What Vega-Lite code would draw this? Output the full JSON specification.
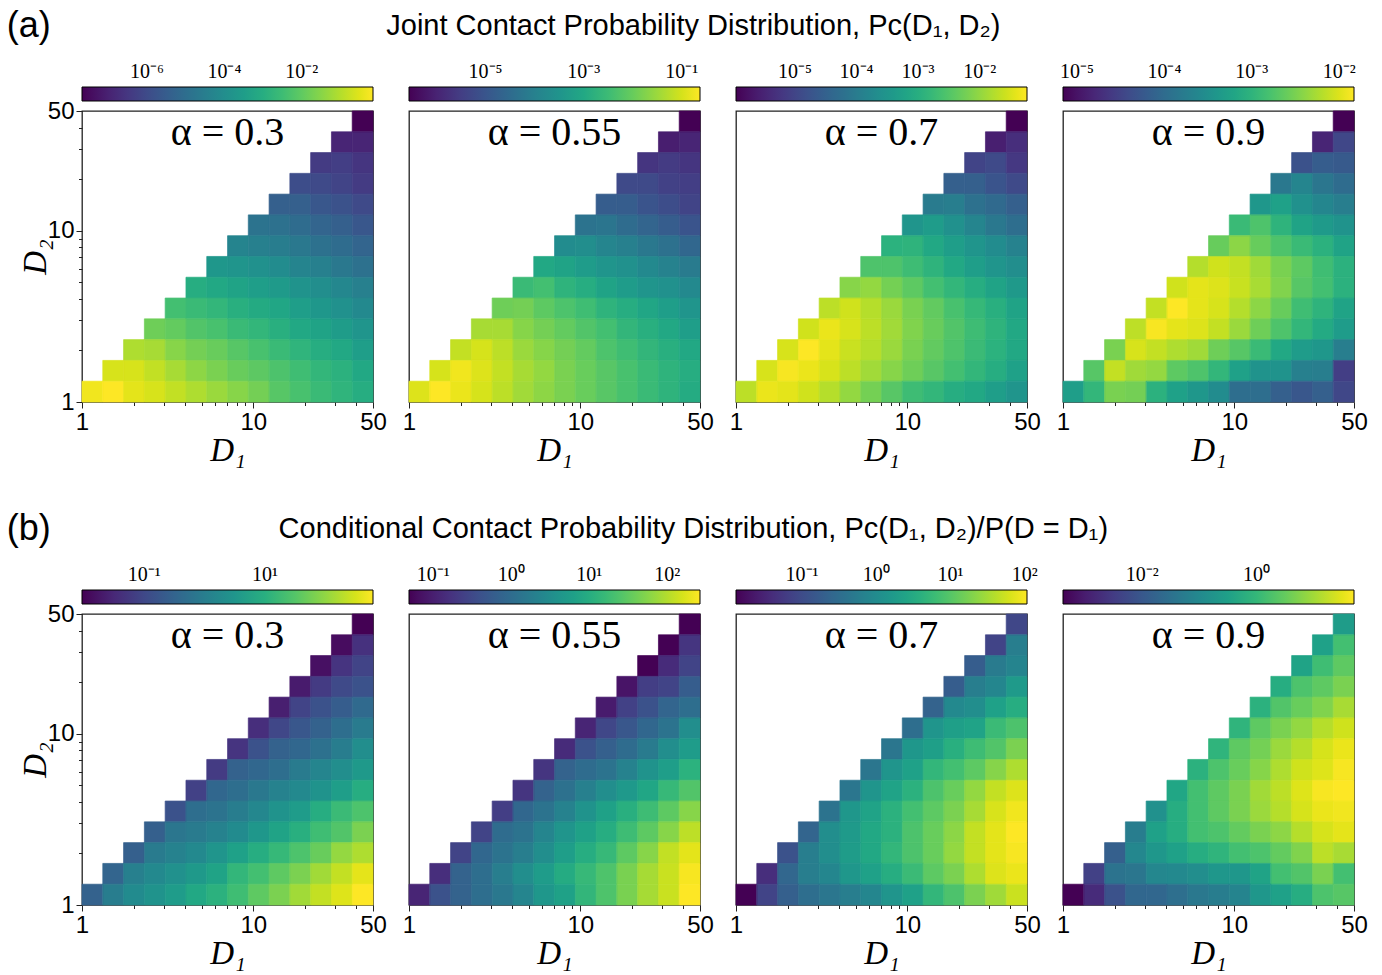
{
"$schema":"https://vega.github.io/schema/vega-lite/v6.json",
"background":"white",
"padding":{"left":6,"top":8,"right":5,"bottom":0},
"spacing":43,
"resolve":{"scale":{"color":"independent","stroke":"independent"},"legend":{"color":"independent"}},
"config":{
 "font":"Liberation Sans",
 "view":{"stroke":"#222","strokeWidth":1.3},
 "concat":{"spacing":36},
 "title":{"font":"Liberation Sans","fontWeight":"normal","color":"black"},
 "axis":{"grid":false,"domain":false,"labelFont":"Liberation Sans","labelFontSize":24,"labelColor":"black","labelPadding":2,"tickColor":"#222","tickWidth":1,"titleFont":"Liberation Serif","titleFontStyle":"italic","titleFontWeight":"normal","titleFontSize":33,"titleColor":"black","titlePadding":0,"labelOverlap":false,"labelFlush":false},
 "axisY":{"titlePadding":-5},
 "legend":{"orient":"top","direction":"horizontal","gradientThickness":14,"gradientStrokeColor":"black","gradientStrokeWidth":1,"labelFont":"Liberation Serif","labelFontSize":20,"labelColor":"black","labelOverlap":false,"offset":9,"padding":0}
},
"datasets":{
 "bins":[{"k":0,"lo":1,"hi":1.3225},{"k":1,"lo":1.3225,"hi":1.749},{"k":2,"lo":1.749,"hi":2.313},{"k":3,"lo":2.313,"hi":3.059},{"k":4,"lo":3.059,"hi":4.0456},{"k":5,"lo":4.0456,"hi":5.3504},{"k":6,"lo":5.3504,"hi":7.0757},{"k":7,"lo":7.0757,"hi":9.3512},{"k":8,"lo":9.3512,"hi":12.37},{"k":9,"lo":12.37,"hi":16.355},{"k":10,"lo":16.355,"hi":21.625},{"k":11,"lo":21.625,"hi":28.6},{"k":12,"lo":28.6,"hi":37.81},{"k":13,"lo":37.81,"hi":50}],
 "labels":[{"p":"a1","label":"α = 0.3"},{"p":"a2","label":"α = 0.55"},{"p":"a3","label":"α = 0.7"},{"p":"a4","label":"α = 0.9"},{"p":"b1","label":"α = 0.3"},{"p":"b2","label":"α = 0.55"},{"p":"b3","label":"α = 0.7"},{"p":"b4","label":"α = 0.9"}],
 "cells":[
{"p":"a1","i":13,"j":13,"v":-7.68},
{"p":"a1","i":12,"j":12,"v":-6.93},{"p":"a1","i":13,"j":12,"v":-6.93},
{"p":"a1","i":11,"j":11,"v":-6.40},{"p":"a1","i":12,"j":11,"v":-6.33},{"p":"a1","i":13,"j":11,"v":-6.55},
{"p":"a1","i":10,"j":10,"v":-5.95},{"p":"a1","i":11,"j":10,"v":-6.03},{"p":"a1","i":12,"j":10,"v":-6.18},{"p":"a1","i":13,"j":10,"v":-6.40},
{"p":"a1","i":9,"j":9,"v":-5.42},{"p":"a1","i":10,"j":9,"v":-5.42},{"p":"a1","i":11,"j":9,"v":-5.65},{"p":"a1","i":12,"j":9,"v":-5.80},{"p":"a1","i":13,"j":9,"v":-6.03},
{"p":"a1","i":8,"j":8,"v":-4.82},{"p":"a1","i":9,"j":8,"v":-4.90},{"p":"a1","i":10,"j":8,"v":-5.05},{"p":"a1","i":11,"j":8,"v":-5.27},{"p":"a1","i":12,"j":8,"v":-5.42},{"p":"a1","i":13,"j":8,"v":-5.65},
{"p":"a1","i":7,"j":7,"v":-4.30},{"p":"a1","i":8,"j":7,"v":-4.45},{"p":"a1","i":9,"j":7,"v":-4.52},{"p":"a1","i":10,"j":7,"v":-4.67},{"p":"a1","i":11,"j":7,"v":-4.90},{"p":"a1","i":12,"j":7,"v":-5.05},{"p":"a1","i":13,"j":7,"v":-5.27},
{"p":"a1","i":6,"j":6,"v":-3.69},{"p":"a1","i":7,"j":6,"v":-3.77},{"p":"a1","i":8,"j":6,"v":-3.92},{"p":"a1","i":9,"j":6,"v":-4.07},{"p":"a1","i":10,"j":6,"v":-4.30},{"p":"a1","i":11,"j":6,"v":-4.45},{"p":"a1","i":12,"j":6,"v":-4.67},{"p":"a1","i":13,"j":6,"v":-4.90},
{"p":"a1","i":5,"j":5,"v":-3.02},{"p":"a1","i":6,"j":5,"v":-3.17},{"p":"a1","i":7,"j":5,"v":-3.32},{"p":"a1","i":8,"j":5,"v":-3.47},{"p":"a1","i":9,"j":5,"v":-3.62},{"p":"a1","i":10,"j":5,"v":-3.84},{"p":"a1","i":11,"j":5,"v":-3.99},{"p":"a1","i":12,"j":5,"v":-4.22},{"p":"a1","i":13,"j":5,"v":-4.45},
{"p":"a1","i":4,"j":4,"v":-2.42},{"p":"a1","i":5,"j":4,"v":-2.57},{"p":"a1","i":6,"j":4,"v":-2.72},{"p":"a1","i":7,"j":4,"v":-2.94},{"p":"a1","i":8,"j":4,"v":-3.09},{"p":"a1","i":9,"j":4,"v":-3.24},{"p":"a1","i":10,"j":4,"v":-3.47},{"p":"a1","i":11,"j":4,"v":-3.69},{"p":"a1","i":12,"j":4,"v":-3.92},{"p":"a1","i":13,"j":4,"v":-4.15},
{"p":"a1","i":3,"j":3,"v":-1.81},{"p":"a1","i":4,"j":3,"v":-1.96},{"p":"a1","i":5,"j":3,"v":-2.19},{"p":"a1","i":6,"j":3,"v":-2.34},{"p":"a1","i":7,"j":3,"v":-2.57},{"p":"a1","i":8,"j":3,"v":-2.72},{"p":"a1","i":9,"j":3,"v":-2.94},{"p":"a1","i":10,"j":3,"v":-3.17},{"p":"a1","i":11,"j":3,"v":-3.32},{"p":"a1","i":12,"j":3,"v":-3.54},{"p":"a1","i":13,"j":3,"v":-3.77},
{"p":"a1","i":2,"j":2,"v":-1.06},{"p":"a1","i":3,"j":2,"v":-1.14},{"p":"a1","i":4,"j":2,"v":-1.51},{"p":"a1","i":5,"j":2,"v":-1.74},{"p":"a1","i":6,"j":2,"v":-1.89},{"p":"a1","i":7,"j":2,"v":-2.12},{"p":"a1","i":8,"j":2,"v":-2.34},{"p":"a1","i":9,"j":2,"v":-2.57},{"p":"a1","i":10,"j":2,"v":-2.79},{"p":"a1","i":11,"j":2,"v":-3.02},{"p":"a1","i":12,"j":2,"v":-3.17},{"p":"a1","i":13,"j":2,"v":-3.47},
{"p":"a1","i":1,"j":1,"v":-0.61},{"p":"a1","i":2,"j":1,"v":-0.61},{"p":"a1","i":3,"j":1,"v":-0.84},{"p":"a1","i":4,"j":1,"v":-1.14},{"p":"a1","i":5,"j":1,"v":-1.44},{"p":"a1","i":6,"j":1,"v":-1.66},{"p":"a1","i":7,"j":1,"v":-1.89},{"p":"a1","i":8,"j":1,"v":-2.04},{"p":"a1","i":9,"j":1,"v":-2.27},{"p":"a1","i":10,"j":1,"v":-2.49},{"p":"a1","i":11,"j":1,"v":-2.72},{"p":"a1","i":12,"j":1,"v":-2.87},{"p":"a1","i":13,"j":1,"v":-3.17},
{"p":"a1","i":0,"j":0,"v":-0.31},{"p":"a1","i":1,"j":0,"v":-0.16},{"p":"a1","i":2,"j":0,"v":-0.46},{"p":"a1","i":3,"j":0,"v":-0.61},{"p":"a1","i":4,"j":0,"v":-0.84},{"p":"a1","i":5,"j":0,"v":-1.06},{"p":"a1","i":6,"j":0,"v":-1.29},{"p":"a1","i":7,"j":0,"v":-1.51},{"p":"a1","i":8,"j":0,"v":-1.74},{"p":"a1","i":9,"j":0,"v":-2.12},{"p":"a1","i":10,"j":0,"v":-2.34},{"p":"a1","i":11,"j":0,"v":-2.57},{"p":"a1","i":12,"j":0,"v":-2.79},{"p":"a1","i":13,"j":0,"v":-3.02},

{"p":"a2","i":13,"j":13,"v":-6.56},
{"p":"a2","i":12,"j":12,"v":-6.09},{"p":"a2","i":13,"j":12,"v":-5.97},
{"p":"a2","i":11,"j":11,"v":-5.67},{"p":"a2","i":12,"j":11,"v":-5.55},{"p":"a2","i":13,"j":11,"v":-5.67},
{"p":"a2","i":10,"j":10,"v":-5.26},{"p":"a2","i":11,"j":10,"v":-5.26},{"p":"a2","i":12,"j":10,"v":-5.43},{"p":"a2","i":13,"j":10,"v":-5.49},
{"p":"a2","i":9,"j":9,"v":-4.84},{"p":"a2","i":10,"j":9,"v":-4.84},{"p":"a2","i":11,"j":9,"v":-5.02},{"p":"a2","i":12,"j":9,"v":-5.20},{"p":"a2","i":13,"j":9,"v":-5.37},
{"p":"a2","i":8,"j":8,"v":-4.31},{"p":"a2","i":9,"j":8,"v":-4.25},{"p":"a2","i":10,"j":8,"v":-4.48},{"p":"a2","i":11,"j":8,"v":-4.66},{"p":"a2","i":12,"j":8,"v":-4.84},{"p":"a2","i":13,"j":8,"v":-5.02},
{"p":"a2","i":7,"j":7,"v":-3.71},{"p":"a2","i":8,"j":7,"v":-3.65},{"p":"a2","i":9,"j":7,"v":-3.89},{"p":"a2","i":10,"j":7,"v":-4.01},{"p":"a2","i":11,"j":7,"v":-4.19},{"p":"a2","i":12,"j":7,"v":-4.37},{"p":"a2","i":13,"j":7,"v":-4.60},
{"p":"a2","i":6,"j":6,"v":-3.00},{"p":"a2","i":7,"j":6,"v":-3.12},{"p":"a2","i":8,"j":6,"v":-3.30},{"p":"a2","i":9,"j":6,"v":-3.48},{"p":"a2","i":10,"j":6,"v":-3.60},{"p":"a2","i":11,"j":6,"v":-3.77},{"p":"a2","i":12,"j":6,"v":-3.95},{"p":"a2","i":13,"j":6,"v":-4.13},
{"p":"a2","i":5,"j":5,"v":-2.53},{"p":"a2","i":6,"j":5,"v":-2.41},{"p":"a2","i":7,"j":5,"v":-2.71},{"p":"a2","i":8,"j":5,"v":-2.88},{"p":"a2","i":9,"j":5,"v":-3.12},{"p":"a2","i":10,"j":5,"v":-3.30},{"p":"a2","i":11,"j":5,"v":-3.48},{"p":"a2","i":12,"j":5,"v":-3.60},{"p":"a2","i":13,"j":5,"v":-3.77},
{"p":"a2","i":4,"j":4,"v":-1.93},{"p":"a2","i":5,"j":4,"v":-1.88},{"p":"a2","i":6,"j":4,"v":-2.11},{"p":"a2","i":7,"j":4,"v":-2.29},{"p":"a2","i":8,"j":4,"v":-2.47},{"p":"a2","i":9,"j":4,"v":-2.71},{"p":"a2","i":10,"j":4,"v":-2.88},{"p":"a2","i":11,"j":4,"v":-3.06},{"p":"a2","i":12,"j":4,"v":-3.24},{"p":"a2","i":13,"j":4,"v":-3.48},
{"p":"a2","i":3,"j":3,"v":-1.40},{"p":"a2","i":4,"j":3,"v":-1.40},{"p":"a2","i":5,"j":3,"v":-1.70},{"p":"a2","i":6,"j":3,"v":-1.88},{"p":"a2","i":7,"j":3,"v":-2.05},{"p":"a2","i":8,"j":3,"v":-2.23},{"p":"a2","i":9,"j":3,"v":-2.41},{"p":"a2","i":10,"j":3,"v":-2.65},{"p":"a2","i":11,"j":3,"v":-2.82},{"p":"a2","i":12,"j":3,"v":-3.00},{"p":"a2","i":13,"j":3,"v":-3.24},
{"p":"a2","i":2,"j":2,"v":-1.16},{"p":"a2","i":3,"j":2,"v":-0.99},{"p":"a2","i":4,"j":2,"v":-1.22},{"p":"a2","i":5,"j":2,"v":-1.52},{"p":"a2","i":6,"j":2,"v":-1.70},{"p":"a2","i":7,"j":2,"v":-1.88},{"p":"a2","i":8,"j":2,"v":-2.05},{"p":"a2","i":9,"j":2,"v":-2.29},{"p":"a2","i":10,"j":2,"v":-2.47},{"p":"a2","i":11,"j":2,"v":-2.65},{"p":"a2","i":12,"j":2,"v":-2.82},{"p":"a2","i":13,"j":2,"v":-3.00},
{"p":"a2","i":1,"j":1,"v":-0.99},{"p":"a2","i":2,"j":1,"v":-0.75},{"p":"a2","i":3,"j":1,"v":-0.93},{"p":"a2","i":4,"j":1,"v":-1.16},{"p":"a2","i":5,"j":1,"v":-1.40},{"p":"a2","i":6,"j":1,"v":-1.58},{"p":"a2","i":7,"j":1,"v":-1.82},{"p":"a2","i":8,"j":1,"v":-1.99},{"p":"a2","i":9,"j":1,"v":-2.17},{"p":"a2","i":10,"j":1,"v":-2.35},{"p":"a2","i":11,"j":1,"v":-2.53},{"p":"a2","i":12,"j":1,"v":-2.71},{"p":"a2","i":13,"j":1,"v":-2.88},
{"p":"a2","i":0,"j":0,"v":-0.93},{"p":"a2","i":1,"j":0,"v":-0.63},{"p":"a2","i":2,"j":0,"v":-0.81},{"p":"a2","i":3,"j":0,"v":-0.99},{"p":"a2","i":4,"j":0,"v":-1.22},{"p":"a2","i":5,"j":0,"v":-1.46},{"p":"a2","i":6,"j":0,"v":-1.64},{"p":"a2","i":7,"j":0,"v":-1.82},{"p":"a2","i":8,"j":0,"v":-1.99},{"p":"a2","i":9,"j":0,"v":-2.17},{"p":"a2","i":10,"j":0,"v":-2.35},{"p":"a2","i":11,"j":0,"v":-2.53},{"p":"a2","i":12,"j":0,"v":-2.71},{"p":"a2","i":13,"j":0,"v":-2.94},

{"p":"a3","i":13,"j":13,"v":-5.96},
{"p":"a3","i":12,"j":12,"v":-5.58},{"p":"a3","i":13,"j":12,"v":-5.35},
{"p":"a3","i":11,"j":11,"v":-5.01},{"p":"a3","i":12,"j":11,"v":-4.92},{"p":"a3","i":13,"j":11,"v":-5.20},
{"p":"a3","i":10,"j":10,"v":-4.54},{"p":"a3","i":11,"j":10,"v":-4.54},{"p":"a3","i":12,"j":10,"v":-4.73},{"p":"a3","i":13,"j":10,"v":-4.92},
{"p":"a3","i":9,"j":9,"v":-4.02},{"p":"a3","i":10,"j":9,"v":-3.97},{"p":"a3","i":11,"j":9,"v":-4.21},{"p":"a3","i":12,"j":9,"v":-4.35},{"p":"a3","i":13,"j":9,"v":-4.54},
{"p":"a3","i":8,"j":8,"v":-3.50},{"p":"a3","i":9,"j":8,"v":-3.36},{"p":"a3","i":10,"j":8,"v":-3.60},{"p":"a3","i":11,"j":8,"v":-3.83},{"p":"a3","i":12,"j":8,"v":-4.07},{"p":"a3","i":13,"j":8,"v":-4.26},
{"p":"a3","i":7,"j":7,"v":-2.93},{"p":"a3","i":8,"j":7,"v":-2.89},{"p":"a3","i":9,"j":7,"v":-3.12},{"p":"a3","i":10,"j":7,"v":-3.31},{"p":"a3","i":11,"j":7,"v":-3.50},{"p":"a3","i":12,"j":7,"v":-3.69},{"p":"a3","i":13,"j":7,"v":-3.88},
{"p":"a3","i":6,"j":6,"v":-2.55},{"p":"a3","i":7,"j":6,"v":-2.55},{"p":"a3","i":8,"j":6,"v":-2.70},{"p":"a3","i":9,"j":6,"v":-2.89},{"p":"a3","i":10,"j":6,"v":-3.12},{"p":"a3","i":11,"j":6,"v":-3.31},{"p":"a3","i":12,"j":6,"v":-3.50},{"p":"a3","i":13,"j":6,"v":-3.64},
{"p":"a3","i":5,"j":5,"v":-2.08},{"p":"a3","i":6,"j":5,"v":-1.99},{"p":"a3","i":7,"j":5,"v":-2.22},{"p":"a3","i":8,"j":5,"v":-2.41},{"p":"a3","i":9,"j":5,"v":-2.65},{"p":"a3","i":10,"j":5,"v":-2.84},{"p":"a3","i":11,"j":5,"v":-3.03},{"p":"a3","i":12,"j":5,"v":-3.22},{"p":"a3","i":13,"j":5,"v":-3.41},
{"p":"a3","i":4,"j":4,"v":-1.70},{"p":"a3","i":5,"j":4,"v":-1.56},{"p":"a3","i":6,"j":4,"v":-1.75},{"p":"a3","i":7,"j":4,"v":-1.94},{"p":"a3","i":8,"j":4,"v":-2.18},{"p":"a3","i":9,"j":4,"v":-2.37},{"p":"a3","i":10,"j":4,"v":-2.60},{"p":"a3","i":11,"j":4,"v":-2.79},{"p":"a3","i":12,"j":4,"v":-2.98},{"p":"a3","i":13,"j":4,"v":-3.22},
{"p":"a3","i":3,"j":3,"v":-1.56},{"p":"a3","i":4,"j":3,"v":-1.37},{"p":"a3","i":5,"j":3,"v":-1.51},{"p":"a3","i":6,"j":3,"v":-1.70},{"p":"a3","i":7,"j":3,"v":-1.89},{"p":"a3","i":8,"j":3,"v":-2.13},{"p":"a3","i":9,"j":3,"v":-2.32},{"p":"a3","i":10,"j":3,"v":-2.51},{"p":"a3","i":11,"j":3,"v":-2.70},{"p":"a3","i":12,"j":3,"v":-2.89},{"p":"a3","i":13,"j":3,"v":-3.12},
{"p":"a3","i":2,"j":2,"v":-1.51},{"p":"a3","i":3,"j":2,"v":-1.23},{"p":"a3","i":4,"j":2,"v":-1.42},{"p":"a3","i":5,"j":2,"v":-1.61},{"p":"a3","i":6,"j":2,"v":-1.75},{"p":"a3","i":7,"j":2,"v":-1.94},{"p":"a3","i":8,"j":2,"v":-2.18},{"p":"a3","i":9,"j":2,"v":-2.37},{"p":"a3","i":10,"j":2,"v":-2.55},{"p":"a3","i":11,"j":2,"v":-2.74},{"p":"a3","i":12,"j":2,"v":-2.93},{"p":"a3","i":13,"j":2,"v":-3.12},
{"p":"a3","i":1,"j":1,"v":-1.51},{"p":"a3","i":2,"j":1,"v":-1.28},{"p":"a3","i":3,"j":1,"v":-1.37},{"p":"a3","i":4,"j":1,"v":-1.51},{"p":"a3","i":5,"j":1,"v":-1.70},{"p":"a3","i":6,"j":1,"v":-1.89},{"p":"a3","i":7,"j":1,"v":-2.08},{"p":"a3","i":8,"j":1,"v":-2.27},{"p":"a3","i":9,"j":1,"v":-2.46},{"p":"a3","i":10,"j":1,"v":-2.65},{"p":"a3","i":11,"j":1,"v":-2.84},{"p":"a3","i":12,"j":1,"v":-3.03},{"p":"a3","i":13,"j":1,"v":-3.26},
{"p":"a3","i":0,"j":0,"v":-1.70},{"p":"a3","i":1,"j":0,"v":-1.37},{"p":"a3","i":2,"j":0,"v":-1.42},{"p":"a3","i":3,"j":0,"v":-1.56},{"p":"a3","i":4,"j":0,"v":-1.75},{"p":"a3","i":5,"j":0,"v":-1.99},{"p":"a3","i":6,"j":0,"v":-2.22},{"p":"a3","i":7,"j":0,"v":-2.46},{"p":"a3","i":8,"j":0,"v":-2.70},{"p":"a3","i":9,"j":0,"v":-2.84},{"p":"a3","i":10,"j":0,"v":-3.03},{"p":"a3","i":11,"j":0,"v":-3.12},{"p":"a3","i":12,"j":0,"v":-3.31},{"p":"a3","i":13,"j":0,"v":-3.50},

{"p":"a4","i":13,"j":13,"v":-5.16},
{"p":"a4","i":12,"j":12,"v":-4.83},{"p":"a4","i":13,"j":12,"v":-4.46},
{"p":"a4","i":11,"j":11,"v":-4.33},{"p":"a4","i":12,"j":11,"v":-4.19},{"p":"a4","i":13,"j":11,"v":-4.23},
{"p":"a4","i":10,"j":10,"v":-3.83},{"p":"a4","i":11,"j":10,"v":-3.66},{"p":"a4","i":12,"j":10,"v":-3.86},{"p":"a4","i":13,"j":10,"v":-3.99},
{"p":"a4","i":9,"j":9,"v":-3.40},{"p":"a4","i":10,"j":9,"v":-3.26},{"p":"a4","i":11,"j":9,"v":-3.50},{"p":"a4","i":12,"j":9,"v":-3.63},{"p":"a4","i":13,"j":9,"v":-3.76},
{"p":"a4","i":8,"j":8,"v":-2.90},{"p":"a4","i":9,"j":8,"v":-2.76},{"p":"a4","i":10,"j":8,"v":-3.00},{"p":"a4","i":11,"j":8,"v":-3.23},{"p":"a4","i":12,"j":8,"v":-3.36},{"p":"a4","i":13,"j":8,"v":-3.46},
{"p":"a4","i":7,"j":7,"v":-2.60},{"p":"a4","i":8,"j":7,"v":-2.40},{"p":"a4","i":9,"j":7,"v":-2.60},{"p":"a4","i":10,"j":7,"v":-2.76},{"p":"a4","i":11,"j":7,"v":-2.90},{"p":"a4","i":12,"j":7,"v":-3.03},{"p":"a4","i":13,"j":7,"v":-3.23},
{"p":"a4","i":6,"j":6,"v":-2.20},{"p":"a4","i":7,"j":6,"v":-2.06},{"p":"a4","i":8,"j":6,"v":-2.13},{"p":"a4","i":9,"j":6,"v":-2.30},{"p":"a4","i":10,"j":6,"v":-2.50},{"p":"a4","i":11,"j":6,"v":-2.66},{"p":"a4","i":12,"j":6,"v":-2.86},{"p":"a4","i":13,"j":6,"v":-3.03},
{"p":"a4","i":5,"j":5,"v":-2.06},{"p":"a4","i":6,"j":5,"v":-1.96},{"p":"a4","i":7,"j":5,"v":-2.00},{"p":"a4","i":8,"j":5,"v":-2.10},{"p":"a4","i":9,"j":5,"v":-2.26},{"p":"a4","i":10,"j":5,"v":-2.46},{"p":"a4","i":11,"j":5,"v":-2.70},{"p":"a4","i":12,"j":5,"v":-2.83},{"p":"a4","i":13,"j":5,"v":-3.03},
{"p":"a4","i":4,"j":4,"v":-2.13},{"p":"a4","i":5,"j":4,"v":-1.83},{"p":"a4","i":6,"j":4,"v":-1.96},{"p":"a4","i":7,"j":4,"v":-2.03},{"p":"a4","i":8,"j":4,"v":-2.20},{"p":"a4","i":9,"j":4,"v":-2.40},{"p":"a4","i":10,"j":4,"v":-2.60},{"p":"a4","i":11,"j":4,"v":-2.86},{"p":"a4","i":12,"j":4,"v":-3.00},{"p":"a4","i":13,"j":4,"v":-3.23},
{"p":"a4","i":3,"j":3,"v":-2.16},{"p":"a4","i":4,"j":3,"v":-1.86},{"p":"a4","i":5,"j":3,"v":-1.96},{"p":"a4","i":6,"j":3,"v":-2.00},{"p":"a4","i":7,"j":3,"v":-2.13},{"p":"a4","i":8,"j":3,"v":-2.33},{"p":"a4","i":9,"j":3,"v":-2.56},{"p":"a4","i":10,"j":3,"v":-2.76},{"p":"a4","i":11,"j":3,"v":-2.96},{"p":"a4","i":12,"j":3,"v":-3.13},{"p":"a4","i":13,"j":3,"v":-3.33},
{"p":"a4","i":2,"j":2,"v":-2.50},{"p":"a4","i":3,"j":2,"v":-2.03},{"p":"a4","i":4,"j":2,"v":-2.13},{"p":"a4","i":5,"j":2,"v":-2.23},{"p":"a4","i":6,"j":2,"v":-2.30},{"p":"a4","i":7,"j":2,"v":-2.56},{"p":"a4","i":8,"j":2,"v":-2.70},{"p":"a4","i":9,"j":2,"v":-2.90},{"p":"a4","i":10,"j":2,"v":-3.16},{"p":"a4","i":11,"j":2,"v":-3.33},{"p":"a4","i":12,"j":2,"v":-3.40},{"p":"a4","i":13,"j":2,"v":-3.76},
{"p":"a4","i":1,"j":1,"v":-2.70},{"p":"a4","i":2,"j":1,"v":-2.13},{"p":"a4","i":3,"j":1,"v":-2.30},{"p":"a4","i":4,"j":1,"v":-2.36},{"p":"a4","i":5,"j":1,"v":-2.66},{"p":"a4","i":6,"j":1,"v":-2.76},{"p":"a4","i":7,"j":1,"v":-2.96},{"p":"a4","i":8,"j":1,"v":-3.26},{"p":"a4","i":9,"j":1,"v":-3.46},{"p":"a4","i":10,"j":1,"v":-3.46},{"p":"a4","i":11,"j":1,"v":-3.73},{"p":"a4","i":12,"j":1,"v":-3.76},{"p":"a4","i":13,"j":1,"v":-4.56},
{"p":"a4","i":0,"j":0,"v":-3.30},{"p":"a4","i":1,"j":0,"v":-2.96},{"p":"a4","i":2,"j":0,"v":-2.50},{"p":"a4","i":3,"j":0,"v":-2.53},{"p":"a4","i":4,"j":0,"v":-3.03},{"p":"a4","i":5,"j":0,"v":-3.26},{"p":"a4","i":6,"j":0,"v":-3.40},{"p":"a4","i":7,"j":0,"v":-3.56},{"p":"a4","i":8,"j":0,"v":-3.96},{"p":"a4","i":9,"j":0,"v":-3.96},{"p":"a4","i":10,"j":0,"v":-4.16},{"p":"a4","i":11,"j":0,"v":-4.26},{"p":"a4","i":12,"j":0,"v":-4.16},{"p":"a4","i":13,"j":0,"v":-4.46},

{"p":"b1","i":13,"j":13,"v":-2.03},
{"p":"b1","i":12,"j":12,"v":-1.89},{"p":"b1","i":13,"j":12,"v":-1.36},
{"p":"b1","i":11,"j":11,"v":-1.84},{"p":"b1","i":12,"j":11,"v":-1.31},{"p":"b1","i":13,"j":11,"v":-1.07},
{"p":"b1","i":10,"j":10,"v":-1.69},{"p":"b1","i":11,"j":10,"v":-1.21},{"p":"b1","i":12,"j":10,"v":-0.97},{"p":"b1","i":13,"j":10,"v":-0.83},
{"p":"b1","i":9,"j":9,"v":-1.64},{"p":"b1","i":10,"j":9,"v":-1.07},{"p":"b1","i":11,"j":9,"v":-0.83},{"p":"b1","i":12,"j":9,"v":-0.63},{"p":"b1","i":13,"j":9,"v":-0.39},
{"p":"b1","i":8,"j":8,"v":-1.40},{"p":"b1","i":9,"j":8,"v":-1.02},{"p":"b1","i":10,"j":8,"v":-0.73},{"p":"b1","i":11,"j":8,"v":-0.54},{"p":"b1","i":12,"j":8,"v":-0.30},{"p":"b1","i":13,"j":8,"v":-0.05},
{"p":"b1","i":7,"j":7,"v":-1.31},{"p":"b1","i":8,"j":7,"v":-0.83},{"p":"b1","i":9,"j":7,"v":-0.54},{"p":"b1","i":10,"j":7,"v":-0.44},{"p":"b1","i":11,"j":7,"v":-0.25},{"p":"b1","i":12,"j":7,"v":-0.01},{"p":"b1","i":13,"j":7,"v":0.33},
{"p":"b1","i":6,"j":6,"v":-1.21},{"p":"b1","i":7,"j":6,"v":-0.54},{"p":"b1","i":8,"j":6,"v":-0.44},{"p":"b1","i":9,"j":6,"v":-0.30},{"p":"b1","i":10,"j":6,"v":-0.05},{"p":"b1","i":11,"j":6,"v":0.14},{"p":"b1","i":12,"j":6,"v":0.33},{"p":"b1","i":13,"j":6,"v":0.57},
{"p":"b1","i":5,"j":5,"v":-1.11},{"p":"b1","i":6,"j":5,"v":-0.44},{"p":"b1","i":7,"j":5,"v":-0.30},{"p":"b1","i":8,"j":5,"v":-0.10},{"p":"b1","i":9,"j":5,"v":0.09},{"p":"b1","i":10,"j":5,"v":0.24},{"p":"b1","i":11,"j":5,"v":0.43},{"p":"b1","i":12,"j":5,"v":0.67},{"p":"b1","i":13,"j":5,"v":0.96},
{"p":"b1","i":4,"j":4,"v":-0.83},{"p":"b1","i":5,"j":4,"v":-0.30},{"p":"b1","i":6,"j":4,"v":-0.20},{"p":"b1","i":7,"j":4,"v":-0.01},{"p":"b1","i":8,"j":4,"v":0.19},{"p":"b1","i":9,"j":4,"v":0.43},{"p":"b1","i":10,"j":4,"v":0.62},{"p":"b1","i":11,"j":4,"v":0.96},{"p":"b1","i":12,"j":4,"v":1.25},{"p":"b1","i":13,"j":4,"v":1.44},
{"p":"b1","i":3,"j":3,"v":-0.58},{"p":"b1","i":4,"j":3,"v":-0.15},{"p":"b1","i":5,"j":3,"v":-0.05},{"p":"b1","i":6,"j":3,"v":0.09},{"p":"b1","i":7,"j":3,"v":0.28},{"p":"b1","i":8,"j":3,"v":0.52},{"p":"b1","i":9,"j":3,"v":0.77},{"p":"b1","i":10,"j":3,"v":1.01},{"p":"b1","i":11,"j":3,"v":1.30},{"p":"b1","i":12,"j":3,"v":1.49},{"p":"b1","i":13,"j":3,"v":1.83},
{"p":"b1","i":2,"j":2,"v":-0.58},{"p":"b1","i":3,"j":2,"v":-0.05},{"p":"b1","i":4,"j":2,"v":0.09},{"p":"b1","i":5,"j":2,"v":0.24},{"p":"b1","i":6,"j":2,"v":0.48},{"p":"b1","i":7,"j":2,"v":0.72},{"p":"b1","i":8,"j":2,"v":0.96},{"p":"b1","i":9,"j":2,"v":1.20},{"p":"b1","i":10,"j":2,"v":1.44},{"p":"b1","i":11,"j":2,"v":1.68},{"p":"b1","i":12,"j":2,"v":2.02},{"p":"b1","i":13,"j":2,"v":2.21},
{"p":"b1","i":1,"j":1,"v":-0.49},{"p":"b1","i":2,"j":1,"v":0.04},{"p":"b1","i":3,"j":1,"v":0.24},{"p":"b1","i":4,"j":1,"v":0.38},{"p":"b1","i":5,"j":1,"v":0.57},{"p":"b1","i":6,"j":1,"v":0.77},{"p":"b1","i":7,"j":1,"v":1.15},{"p":"b1","i":8,"j":1,"v":1.34},{"p":"b1","i":9,"j":1,"v":1.59},{"p":"b1","i":10,"j":1,"v":1.83},{"p":"b1","i":11,"j":1,"v":2.12},{"p":"b1","i":12,"j":1,"v":2.36},{"p":"b1","i":13,"j":1,"v":2.60},
{"p":"b1","i":0,"j":0,"v":-0.54},{"p":"b1","i":1,"j":0,"v":-0.01},{"p":"b1","i":2,"j":0,"v":0.28},{"p":"b1","i":3,"j":0,"v":0.43},{"p":"b1","i":4,"j":0,"v":0.62},{"p":"b1","i":5,"j":0,"v":0.86},{"p":"b1","i":6,"j":0,"v":1.05},{"p":"b1","i":7,"j":0,"v":1.30},{"p":"b1","i":8,"j":0,"v":1.59},{"p":"b1","i":9,"j":0,"v":1.83},{"p":"b1","i":10,"j":0,"v":2.12},{"p":"b1","i":11,"j":0,"v":2.36},{"p":"b1","i":12,"j":0,"v":2.55},{"p":"b1","i":13,"j":0,"v":2.79},

{"p":"b2","i":13,"j":13,"v":-1.31},
{"p":"b2","i":12,"j":12,"v":-1.31},{"p":"b2","i":13,"j":12,"v":-0.75},
{"p":"b2","i":11,"j":11,"v":-1.31},{"p":"b2","i":12,"j":11,"v":-0.86},{"p":"b2","i":13,"j":11,"v":-0.56},
{"p":"b2","i":10,"j":10,"v":-1.12},{"p":"b2","i":11,"j":10,"v":-0.64},{"p":"b2","i":12,"j":10,"v":-0.56},{"p":"b2","i":13,"j":10,"v":-0.23},
{"p":"b2","i":9,"j":9,"v":-1.05},{"p":"b2","i":10,"j":9,"v":-0.60},{"p":"b2","i":11,"j":9,"v":-0.38},{"p":"b2","i":12,"j":9,"v":-0.12},{"p":"b2","i":13,"j":9,"v":0.03},
{"p":"b2","i":8,"j":8,"v":-0.94},{"p":"b2","i":9,"j":8,"v":-0.53},{"p":"b2","i":10,"j":8,"v":-0.30},{"p":"b2","i":11,"j":8,"v":-0.08},{"p":"b2","i":12,"j":8,"v":0.11},{"p":"b2","i":13,"j":8,"v":0.52},
{"p":"b2","i":7,"j":7,"v":-0.86},{"p":"b2","i":8,"j":7,"v":-0.38},{"p":"b2","i":9,"j":7,"v":-0.19},{"p":"b2","i":10,"j":7,"v":0.00},{"p":"b2","i":11,"j":7,"v":0.22},{"p":"b2","i":12,"j":7,"v":0.52},{"p":"b2","i":13,"j":7,"v":0.74},
{"p":"b2","i":6,"j":6,"v":-0.75},{"p":"b2","i":7,"j":6,"v":-0.15},{"p":"b2","i":8,"j":6,"v":0.00},{"p":"b2","i":9,"j":6,"v":0.11},{"p":"b2","i":10,"j":6,"v":0.33},{"p":"b2","i":11,"j":6,"v":0.59},{"p":"b2","i":12,"j":6,"v":0.78},{"p":"b2","i":13,"j":6,"v":1.08},
{"p":"b2","i":5,"j":5,"v":-0.75},{"p":"b2","i":6,"j":5,"v":-0.15},{"p":"b2","i":7,"j":5,"v":0.07},{"p":"b2","i":8,"j":5,"v":0.29},{"p":"b2","i":9,"j":5,"v":0.52},{"p":"b2","i":10,"j":5,"v":0.70},{"p":"b2","i":11,"j":5,"v":0.89},{"p":"b2","i":12,"j":5,"v":1.19},{"p":"b2","i":13,"j":5,"v":1.41},
{"p":"b2","i":4,"j":4,"v":-0.64},{"p":"b2","i":5,"j":4,"v":-0.08},{"p":"b2","i":6,"j":4,"v":0.11},{"p":"b2","i":7,"j":4,"v":0.33},{"p":"b2","i":8,"j":4,"v":0.59},{"p":"b2","i":9,"j":4,"v":0.82},{"p":"b2","i":10,"j":4,"v":1.04},{"p":"b2","i":11,"j":4,"v":1.26},{"p":"b2","i":12,"j":4,"v":1.49},{"p":"b2","i":13,"j":4,"v":1.75},
{"p":"b2","i":3,"j":3,"v":-0.56},{"p":"b2","i":4,"j":3,"v":0.00},{"p":"b2","i":5,"j":3,"v":0.11},{"p":"b2","i":6,"j":3,"v":0.37},{"p":"b2","i":7,"j":3,"v":0.63},{"p":"b2","i":8,"j":3,"v":0.82},{"p":"b2","i":9,"j":3,"v":1.00},{"p":"b2","i":10,"j":3,"v":1.26},{"p":"b2","i":11,"j":3,"v":1.49},{"p":"b2","i":12,"j":3,"v":1.75},{"p":"b2","i":13,"j":3,"v":2.05},
{"p":"b2","i":2,"j":2,"v":-0.56},{"p":"b2","i":3,"j":2,"v":-0.08},{"p":"b2","i":4,"j":2,"v":0.11},{"p":"b2","i":5,"j":2,"v":0.26},{"p":"b2","i":6,"j":2,"v":0.52},{"p":"b2","i":7,"j":2,"v":0.78},{"p":"b2","i":8,"j":2,"v":1.00},{"p":"b2","i":9,"j":2,"v":1.19},{"p":"b2","i":10,"j":2,"v":1.49},{"p":"b2","i":11,"j":2,"v":1.75},{"p":"b2","i":12,"j":2,"v":2.08},{"p":"b2","i":13,"j":2,"v":2.27},
{"p":"b2","i":1,"j":1,"v":-0.83},{"p":"b2","i":2,"j":1,"v":-0.15},{"p":"b2","i":3,"j":1,"v":0.03},{"p":"b2","i":4,"j":1,"v":0.26},{"p":"b2","i":5,"j":1,"v":0.52},{"p":"b2","i":6,"j":1,"v":0.74},{"p":"b2","i":7,"j":1,"v":0.97},{"p":"b2","i":8,"j":1,"v":1.19},{"p":"b2","i":9,"j":1,"v":1.38},{"p":"b2","i":10,"j":1,"v":1.67},{"p":"b2","i":11,"j":1,"v":1.93},{"p":"b2","i":12,"j":1,"v":2.12},{"p":"b2","i":13,"j":1,"v":2.38},
{"p":"b2","i":0,"j":0,"v":-0.94},{"p":"b2","i":1,"j":0,"v":-0.38},{"p":"b2","i":2,"j":0,"v":-0.15},{"p":"b2","i":3,"j":0,"v":0.03},{"p":"b2","i":4,"j":0,"v":0.18},{"p":"b2","i":5,"j":0,"v":0.37},{"p":"b2","i":6,"j":0,"v":0.67},{"p":"b2","i":7,"j":0,"v":0.82},{"p":"b2","i":8,"j":0,"v":1.15},{"p":"b2","i":9,"j":0,"v":1.38},{"p":"b2","i":10,"j":0,"v":1.67},{"p":"b2","i":11,"j":0,"v":1.93},{"p":"b2","i":12,"j":0,"v":2.12},{"p":"b2","i":13,"j":0,"v":2.42},

{"p":"b3","i":13,"j":13,"v":-1.07},
{"p":"b3","i":12,"j":12,"v":-1.11},{"p":"b3","i":13,"j":12,"v":-0.24},
{"p":"b3","i":11,"j":11,"v":-0.75},{"p":"b3","i":12,"j":11,"v":-0.28},{"p":"b3","i":13,"j":11,"v":-0.13},
{"p":"b3","i":10,"j":10,"v":-0.75},{"p":"b3","i":11,"j":10,"v":-0.24},{"p":"b3","i":12,"j":10,"v":-0.09},{"p":"b3","i":13,"j":10,"v":0.23},
{"p":"b3","i":9,"j":9,"v":-0.67},{"p":"b3","i":10,"j":9,"v":-0.05},{"p":"b3","i":11,"j":9,"v":0.03},{"p":"b3","i":12,"j":9,"v":0.34},{"p":"b3","i":13,"j":9,"v":0.54},
{"p":"b3","i":8,"j":8,"v":-0.48},{"p":"b3","i":9,"j":8,"v":0.15},{"p":"b3","i":10,"j":8,"v":0.31},{"p":"b3","i":11,"j":8,"v":0.38},{"p":"b3","i":12,"j":8,"v":0.78},{"p":"b3","i":13,"j":8,"v":0.93},
{"p":"b3","i":7,"j":7,"v":-0.36},{"p":"b3","i":8,"j":7,"v":0.19},{"p":"b3","i":9,"j":7,"v":0.31},{"p":"b3","i":10,"j":7,"v":0.58},{"p":"b3","i":11,"j":7,"v":0.81},{"p":"b3","i":12,"j":7,"v":0.97},{"p":"b3","i":13,"j":7,"v":1.25},
{"p":"b3","i":6,"j":6,"v":-0.36},{"p":"b3","i":7,"j":6,"v":0.15},{"p":"b3","i":8,"j":6,"v":0.34},{"p":"b3","i":9,"j":6,"v":0.70},{"p":"b3","i":10,"j":6,"v":0.85},{"p":"b3","i":11,"j":6,"v":1.05},{"p":"b3","i":12,"j":6,"v":1.32},{"p":"b3","i":13,"j":6,"v":1.56},
{"p":"b3","i":5,"j":5,"v":-0.36},{"p":"b3","i":6,"j":5,"v":0.15},{"p":"b3","i":7,"j":5,"v":0.38},{"p":"b3","i":8,"j":5,"v":0.62},{"p":"b3","i":9,"j":5,"v":0.93},{"p":"b3","i":10,"j":5,"v":1.13},{"p":"b3","i":11,"j":5,"v":1.40},{"p":"b3","i":12,"j":5,"v":1.68},{"p":"b3","i":13,"j":5,"v":1.83},
{"p":"b3","i":4,"j":4,"v":-0.40},{"p":"b3","i":5,"j":4,"v":0.19},{"p":"b3","i":6,"j":4,"v":0.38},{"p":"b3","i":7,"j":4,"v":0.62},{"p":"b3","i":8,"j":4,"v":0.85},{"p":"b3","i":9,"j":4,"v":1.05},{"p":"b3","i":10,"j":4,"v":1.25},{"p":"b3","i":11,"j":4,"v":1.52},{"p":"b3","i":12,"j":4,"v":1.80},{"p":"b3","i":13,"j":4,"v":1.95},
{"p":"b3","i":3,"j":3,"v":-0.64},{"p":"b3","i":4,"j":3,"v":0.03},{"p":"b3","i":5,"j":3,"v":0.23},{"p":"b3","i":6,"j":3,"v":0.46},{"p":"b3","i":7,"j":3,"v":0.62},{"p":"b3","i":8,"j":3,"v":0.93},{"p":"b3","i":9,"j":3,"v":1.13},{"p":"b3","i":10,"j":3,"v":1.36},{"p":"b3","i":11,"j":3,"v":1.68},{"p":"b3","i":12,"j":3,"v":1.87},{"p":"b3","i":13,"j":3,"v":2.03},
{"p":"b3","i":2,"j":2,"v":-0.91},{"p":"b3","i":3,"j":2,"v":-0.24},{"p":"b3","i":4,"j":2,"v":0.03},{"p":"b3","i":5,"j":2,"v":0.27},{"p":"b3","i":6,"j":2,"v":0.46},{"p":"b3","i":7,"j":2,"v":0.70},{"p":"b3","i":8,"j":2,"v":0.93},{"p":"b3","i":9,"j":2,"v":1.13},{"p":"b3","i":10,"j":2,"v":1.40},{"p":"b3","i":11,"j":2,"v":1.68},{"p":"b3","i":12,"j":2,"v":1.87},{"p":"b3","i":13,"j":2,"v":1.99},
{"p":"b3","i":1,"j":1,"v":-1.38},{"p":"b3","i":2,"j":1,"v":-0.60},{"p":"b3","i":3,"j":1,"v":-0.24},{"p":"b3","i":4,"j":1,"v":-0.09},{"p":"b3","i":5,"j":1,"v":0.19},{"p":"b3","i":6,"j":1,"v":0.34},{"p":"b3","i":7,"j":1,"v":0.54},{"p":"b3","i":8,"j":1,"v":0.78},{"p":"b3","i":9,"j":1,"v":1.05},{"p":"b3","i":10,"j":1,"v":1.25},{"p":"b3","i":11,"j":1,"v":1.56},{"p":"b3","i":12,"j":1,"v":1.83},{"p":"b3","i":13,"j":1,"v":1.91},
{"p":"b3","i":0,"j":0,"v":-1.89},{"p":"b3","i":1,"j":0,"v":-1.11},{"p":"b3","i":2,"j":0,"v":-0.71},{"p":"b3","i":3,"j":0,"v":-0.48},{"p":"b3","i":4,"j":0,"v":-0.36},{"p":"b3","i":5,"j":0,"v":-0.24},{"p":"b3","i":6,"j":0,"v":-0.09},{"p":"b3","i":7,"j":0,"v":0.15},{"p":"b3","i":8,"j":0,"v":0.34},{"p":"b3","i":9,"j":0,"v":0.70},{"p":"b3","i":10,"j":0,"v":0.93},{"p":"b3","i":11,"j":0,"v":1.25},{"p":"b3","i":12,"j":0,"v":1.48},{"p":"b3","i":13,"j":0,"v":1.72},

{"p":"b4","i":13,"j":13,"v":-0.58},
{"p":"b4","i":12,"j":12,"v":-0.48},{"p":"b4","i":13,"j":12,"v":0.18},
{"p":"b4","i":11,"j":11,"v":-0.43},{"p":"b4","i":12,"j":11,"v":0.13},{"p":"b4","i":13,"j":11,"v":0.44},
{"p":"b4","i":10,"j":10,"v":-0.23},{"p":"b4","i":11,"j":10,"v":0.28},{"p":"b4","i":12,"j":10,"v":0.44},{"p":"b4","i":13,"j":10,"v":0.69},
{"p":"b4","i":9,"j":9,"v":-0.13},{"p":"b4","i":10,"j":9,"v":0.33},{"p":"b4","i":11,"j":9,"v":0.54},{"p":"b4","i":12,"j":9,"v":0.74},{"p":"b4","i":13,"j":9,"v":1.05},
{"p":"b4","i":8,"j":8,"v":-0.07},{"p":"b4","i":9,"j":8,"v":0.44},{"p":"b4","i":10,"j":8,"v":0.69},{"p":"b4","i":11,"j":8,"v":0.89},{"p":"b4","i":12,"j":8,"v":1.15},{"p":"b4","i":13,"j":8,"v":1.35},
{"p":"b4","i":7,"j":7,"v":-0.07},{"p":"b4","i":8,"j":7,"v":0.44},{"p":"b4","i":9,"j":7,"v":0.64},{"p":"b4","i":10,"j":7,"v":0.95},{"p":"b4","i":11,"j":7,"v":1.15},{"p":"b4","i":12,"j":7,"v":1.40},{"p":"b4","i":13,"j":7,"v":1.56},
{"p":"b4","i":6,"j":6,"v":-0.13},{"p":"b4","i":7,"j":6,"v":0.28},{"p":"b4","i":8,"j":6,"v":0.54},{"p":"b4","i":9,"j":6,"v":0.79},{"p":"b4","i":10,"j":6,"v":1.10},{"p":"b4","i":11,"j":6,"v":1.35},{"p":"b4","i":12,"j":6,"v":1.46},{"p":"b4","i":13,"j":6,"v":1.66},
{"p":"b4","i":5,"j":5,"v":-0.38},{"p":"b4","i":6,"j":5,"v":0.18},{"p":"b4","i":7,"j":5,"v":0.44},{"p":"b4","i":8,"j":5,"v":0.69},{"p":"b4","i":9,"j":5,"v":1.00},{"p":"b4","i":10,"j":5,"v":1.20},{"p":"b4","i":11,"j":5,"v":1.46},{"p":"b4","i":12,"j":5,"v":1.66},{"p":"b4","i":13,"j":5,"v":1.71},
{"p":"b4","i":4,"j":4,"v":-0.84},{"p":"b4","i":5,"j":4,"v":-0.23},{"p":"b4","i":6,"j":4,"v":0.18},{"p":"b4","i":7,"j":4,"v":0.44},{"p":"b4","i":8,"j":4,"v":0.69},{"p":"b4","i":9,"j":4,"v":0.95},{"p":"b4","i":10,"j":4,"v":1.15},{"p":"b4","i":11,"j":4,"v":1.40},{"p":"b4","i":12,"j":4,"v":1.56},{"p":"b4","i":13,"j":4,"v":1.61},
{"p":"b4","i":3,"j":3,"v":-1.25},{"p":"b4","i":4,"j":3,"v":-0.48},{"p":"b4","i":5,"j":3,"v":-0.23},{"p":"b4","i":6,"j":3,"v":0.18},{"p":"b4","i":7,"j":3,"v":0.28},{"p":"b4","i":8,"j":3,"v":0.49},{"p":"b4","i":9,"j":3,"v":0.69},{"p":"b4","i":10,"j":3,"v":0.84},{"p":"b4","i":11,"j":3,"v":1.15},{"p":"b4","i":12,"j":3,"v":1.40},{"p":"b4","i":13,"j":3,"v":1.51},
{"p":"b4","i":2,"j":2,"v":-1.86},{"p":"b4","i":3,"j":2,"v":-1.04},{"p":"b4","i":4,"j":2,"v":-0.69},{"p":"b4","i":5,"j":2,"v":-0.48},{"p":"b4","i":6,"j":2,"v":-0.23},{"p":"b4","i":7,"j":2,"v":-0.07},{"p":"b4","i":8,"j":2,"v":0.18},{"p":"b4","i":9,"j":2,"v":0.28},{"p":"b4","i":10,"j":2,"v":0.49},{"p":"b4","i":11,"j":2,"v":0.74},{"p":"b4","i":12,"j":2,"v":1.20},{"p":"b4","i":13,"j":2,"v":1.05},
{"p":"b4","i":1,"j":1,"v":-2.42},{"p":"b4","i":2,"j":1,"v":-1.45},{"p":"b4","i":3,"j":1,"v":-1.40},{"p":"b4","i":4,"j":1,"v":-1.04},{"p":"b4","i":5,"j":1,"v":-0.99},{"p":"b4","i":6,"j":1,"v":-0.89},{"p":"b4","i":7,"j":1,"v":-0.69},{"p":"b4","i":8,"j":1,"v":-0.69},{"p":"b4","i":9,"j":1,"v":-0.43},{"p":"b4","i":10,"j":1,"v":0.18},{"p":"b4","i":11,"j":1,"v":0.33},{"p":"b4","i":12,"j":1,"v":0.69},{"p":"b4","i":13,"j":1,"v":0.18},
{"p":"b4","i":0,"j":0,"v":-3.39},{"p":"b4","i":1,"j":0,"v":-2.78},{"p":"b4","i":2,"j":0,"v":-2.12},{"p":"b4","i":3,"j":0,"v":-1.71},{"p":"b4","i":4,"j":0,"v":-1.71},{"p":"b4","i":5,"j":0,"v":-1.55},{"p":"b4","i":6,"j":0,"v":-1.35},{"p":"b4","i":7,"j":0,"v":-1.25},{"p":"b4","i":8,"j":0,"v":-1.10},{"p":"b4","i":9,"j":0,"v":-0.69},{"p":"b4","i":10,"j":0,"v":-0.48},{"p":"b4","i":11,"j":0,"v":-0.23},{"p":"b4","i":12,"j":0,"v":0.28},{"p":"b4","i":13,"j":0,"v":0.38}
 ]
},
"vconcat":[
 {"title":{"text":"(a)","anchor":"start","fontSize":36,"dx":-12,"dy":33,"offset":0},
  "resolve":{"scale":{"color":"independent","stroke":"independent"},"legend":{"color":"independent"}},
  "vconcat":[
  {"title":{"text":"Joint Contact Probability Distribution, Pc(D₁, D₂)","anchor":"middle","fontSize":29,"offset":45},
   "resolve":{"scale":{"color":"independent","stroke":"independent"},"legend":{"color":"independent"}},
   "bounds":"flush","spacing":36,
   "hconcat":[
    {"width":291,"height":291,"layer":[
     {"data":{"name":"cells"},"transform":[{"filter":"datum.p=='a1'"},{"lookup":"i","from":{"data":{"name":"bins"},"key":"k","fields":["lo","hi"]},"as":["x1","x2"]},{"lookup":"j","from":{"data":{"name":"bins"},"key":"k","fields":["lo","hi"]},"as":["y1","y2"]}],
      "mark":{"type":"rect","strokeWidth":0},
      "encoding":{
       "x":{"field":"x1","type":"quantitative","scale":{"type":"log","domain":[1,50],"nice":false},"axis":{"title":"D₁","values":[1,2,3,4,5,6,7,8,9,10,20,30,40,50],"labelExpr":"(datum.value==1||datum.value==10||datum.value==50)?format(datum.value,'d'):''","tickSize":{"condition":{"test":"datum.value==1||datum.value==10||datum.value==50","value":6},"value":3.5}}},
       "x2":{"field":"x2"},
       "y":{"field":"y1","type":"quantitative","scale":{"type":"log","domain":[1,50],"nice":false},"axis":{"title":"D₂","values":[1,2,3,4,5,6,7,8,9,10,20,30,40,50],"labelExpr":"(datum.value==1||datum.value==10||datum.value==50)?format(datum.value,'d'):''","tickSize":{"condition":{"test":"datum.value==1||datum.value==10||datum.value==50","value":6},"value":3.5}}},
       "y2":{"field":"y2"},
       "color":{"field":"v","type":"quantitative","scale":{"scheme":"viridis","domain":[-7.68,-0.16],"nice":false,"zero":false},"legend":{"type":"gradient","title":null,"values":[-6,-4,-2],"gradientLength":291,"labelOffset":-39,"labelExpr":"'10' + replace(replace(replace(replace(replace(replace(replace(replace(''+datum.value,'-','⁻'),'0','⁰'),'1','¹'),'2','²'),'3','³'),'4','⁴'),'5','⁵'),'6','⁶')"}}}},
     {"data":{"name":"cells"},"transform":[{"filter":"datum.p=='a1'"},{"lookup":"i","from":{"data":{"name":"bins"},"key":"k","fields":["lo","hi"]},"as":["x1","x2"]},{"lookup":"j","from":{"data":{"name":"bins"},"key":"k","fields":["lo","hi"]},"as":["y1","y2"]}],
      "mark":{"type":"rect","filled":false,"strokeWidth":0.7},
      "encoding":{"x":{"field":"x1","type":"quantitative","scale":{"type":"log","domain":[1,50],"nice":false}},"x2":{"field":"x2"},"y":{"field":"y1","type":"quantitative","scale":{"type":"log","domain":[1,50],"nice":false}},"y2":{"field":"y2"},
       "stroke":{"field":"v","type":"quantitative","scale":{"scheme":"viridis","domain":[-7.681,-0.16],"nice":false,"zero":false},"legend":null}}},
     {"data":{"name":"labels"},"transform":[{"filter":"datum.p=='a1'"}],
      "mark":{"type":"text","font":"Liberation Serif","fontSize":40,"baseline":"alphabetic","align":"center"},
      "encoding":{"text":{"field":"label"},"x":{"datum":7.07,"type":"quantitative"},"y":{"datum":31.7,"type":"quantitative"}}}
    ]},
    {"width":291,"height":291,"layer":[
     {"data":{"name":"cells"},"transform":[{"filter":"datum.p=='a2'"},{"lookup":"i","from":{"data":{"name":"bins"},"key":"k","fields":["lo","hi"]},"as":["x1","x2"]},{"lookup":"j","from":{"data":{"name":"bins"},"key":"k","fields":["lo","hi"]},"as":["y1","y2"]}],
      "mark":{"type":"rect","strokeWidth":0},
      "encoding":{
       "x":{"field":"x1","type":"quantitative","scale":{"type":"log","domain":[1,50],"nice":false},"axis":{"title":"D₁","values":[1,2,3,4,5,6,7,8,9,10,20,30,40,50],"labelExpr":"(datum.value==1||datum.value==10||datum.value==50)?format(datum.value,'d'):''","tickSize":{"condition":{"test":"datum.value==1||datum.value==10||datum.value==50","value":6},"value":3.5}}},
       "x2":{"field":"x2"},
       "y":{"field":"y1","type":"quantitative","scale":{"type":"log","domain":[1,50],"nice":false},"axis":null},
       "y2":{"field":"y2"},
       "color":{"field":"v","type":"quantitative","scale":{"scheme":"viridis","domain":[-6.56,-0.63],"nice":false,"zero":false},"legend":{"type":"gradient","title":null,"values":[-5,-3,-1],"gradientLength":291,"labelOffset":-39,"labelExpr":"'10' + replace(replace(replace(replace(replace(replace(replace(replace(''+datum.value,'-','⁻'),'0','⁰'),'1','¹'),'2','²'),'3','³'),'4','⁴'),'5','⁵'),'6','⁶')"}}}},
     {"data":{"name":"cells"},"transform":[{"filter":"datum.p=='a2'"},{"lookup":"i","from":{"data":{"name":"bins"},"key":"k","fields":["lo","hi"]},"as":["x1","x2"]},{"lookup":"j","from":{"data":{"name":"bins"},"key":"k","fields":["lo","hi"]},"as":["y1","y2"]}],
      "mark":{"type":"rect","filled":false,"strokeWidth":0.7},
      "encoding":{"x":{"field":"x1","type":"quantitative","scale":{"type":"log","domain":[1,50],"nice":false}},"x2":{"field":"x2"},"y":{"field":"y1","type":"quantitative","scale":{"type":"log","domain":[1,50],"nice":false}},"y2":{"field":"y2"},
       "stroke":{"field":"v","type":"quantitative","scale":{"scheme":"viridis","domain":[-6.561,-0.63],"nice":false,"zero":false},"legend":null}}},
     {"data":{"name":"labels"},"transform":[{"filter":"datum.p=='a2'"}],
      "mark":{"type":"text","font":"Liberation Serif","fontSize":40,"baseline":"alphabetic","align":"center"},
      "encoding":{"text":{"field":"label"},"x":{"datum":7.07,"type":"quantitative"},"y":{"datum":31.7,"type":"quantitative"}}}
    ]},
    {"width":291,"height":291,"layer":[
     {"data":{"name":"cells"},"transform":[{"filter":"datum.p=='a3'"},{"lookup":"i","from":{"data":{"name":"bins"},"key":"k","fields":["lo","hi"]},"as":["x1","x2"]},{"lookup":"j","from":{"data":{"name":"bins"},"key":"k","fields":["lo","hi"]},"as":["y1","y2"]}],
      "mark":{"type":"rect","strokeWidth":0},
      "encoding":{
       "x":{"field":"x1","type":"quantitative","scale":{"type":"log","domain":[1,50],"nice":false},"axis":{"title":"D₁","values":[1,2,3,4,5,6,7,8,9,10,20,30,40,50],"labelExpr":"(datum.value==1||datum.value==10||datum.value==50)?format(datum.value,'d'):''","tickSize":{"condition":{"test":"datum.value==1||datum.value==10||datum.value==50","value":6},"value":3.5}}},
       "x2":{"field":"x2"},
       "y":{"field":"y1","type":"quantitative","scale":{"type":"log","domain":[1,50],"nice":false},"axis":null},
       "y2":{"field":"y2"},
       "color":{"field":"v","type":"quantitative","scale":{"scheme":"viridis","domain":[-5.96,-1.23],"nice":false,"zero":false},"legend":{"type":"gradient","title":null,"values":[-5,-4,-3,-2],"gradientLength":291,"labelOffset":-39,"labelExpr":"'10' + replace(replace(replace(replace(replace(replace(replace(replace(''+datum.value,'-','⁻'),'0','⁰'),'1','¹'),'2','²'),'3','³'),'4','⁴'),'5','⁵'),'6','⁶')"}}}},
     {"data":{"name":"cells"},"transform":[{"filter":"datum.p=='a3'"},{"lookup":"i","from":{"data":{"name":"bins"},"key":"k","fields":["lo","hi"]},"as":["x1","x2"]},{"lookup":"j","from":{"data":{"name":"bins"},"key":"k","fields":["lo","hi"]},"as":["y1","y2"]}],
      "mark":{"type":"rect","filled":false,"strokeWidth":0.7},
      "encoding":{"x":{"field":"x1","type":"quantitative","scale":{"type":"log","domain":[1,50],"nice":false}},"x2":{"field":"x2"},"y":{"field":"y1","type":"quantitative","scale":{"type":"log","domain":[1,50],"nice":false}},"y2":{"field":"y2"},
       "stroke":{"field":"v","type":"quantitative","scale":{"scheme":"viridis","domain":[-5.961,-1.23],"nice":false,"zero":false},"legend":null}}},
     {"data":{"name":"labels"},"transform":[{"filter":"datum.p=='a3'"}],
      "mark":{"type":"text","font":"Liberation Serif","fontSize":40,"baseline":"alphabetic","align":"center"},
      "encoding":{"text":{"field":"label"},"x":{"datum":7.07,"type":"quantitative"},"y":{"datum":31.7,"type":"quantitative"}}}
    ]},
    {"width":291,"height":291,"layer":[
     {"data":{"name":"cells"},"transform":[{"filter":"datum.p=='a4'"},{"lookup":"i","from":{"data":{"name":"bins"},"key":"k","fields":["lo","hi"]},"as":["x1","x2"]},{"lookup":"j","from":{"data":{"name":"bins"},"key":"k","fields":["lo","hi"]},"as":["y1","y2"]}],
      "mark":{"type":"rect","strokeWidth":0},
      "encoding":{
       "x":{"field":"x1","type":"quantitative","scale":{"type":"log","domain":[1,50],"nice":false},"axis":{"title":"D₁","values":[1,2,3,4,5,6,7,8,9,10,20,30,40,50],"labelExpr":"(datum.value==1||datum.value==10||datum.value==50)?format(datum.value,'d'):''","tickSize":{"condition":{"test":"datum.value==1||datum.value==10||datum.value==50","value":6},"value":3.5}}},
       "x2":{"field":"x2"},
       "y":{"field":"y1","type":"quantitative","scale":{"type":"log","domain":[1,50],"nice":false},"axis":null},
       "y2":{"field":"y2"},
       "color":{"field":"v","type":"quantitative","scale":{"scheme":"viridis","domain":[-5.16,-1.83],"nice":false,"zero":false},"legend":{"type":"gradient","title":null,"values":[-5,-4,-3,-2],"gradientLength":291,"labelOffset":-39,"labelExpr":"'10' + replace(replace(replace(replace(replace(replace(replace(replace(''+datum.value,'-','⁻'),'0','⁰'),'1','¹'),'2','²'),'3','³'),'4','⁴'),'5','⁵'),'6','⁶')"}}}},
     {"data":{"name":"cells"},"transform":[{"filter":"datum.p=='a4'"},{"lookup":"i","from":{"data":{"name":"bins"},"key":"k","fields":["lo","hi"]},"as":["x1","x2"]},{"lookup":"j","from":{"data":{"name":"bins"},"key":"k","fields":["lo","hi"]},"as":["y1","y2"]}],
      "mark":{"type":"rect","filled":false,"strokeWidth":0.7},
      "encoding":{"x":{"field":"x1","type":"quantitative","scale":{"type":"log","domain":[1,50],"nice":false}},"x2":{"field":"x2"},"y":{"field":"y1","type":"quantitative","scale":{"type":"log","domain":[1,50],"nice":false}},"y2":{"field":"y2"},
       "stroke":{"field":"v","type":"quantitative","scale":{"scheme":"viridis","domain":[-5.161,-1.83],"nice":false,"zero":false},"legend":null}}},
     {"data":{"name":"labels"},"transform":[{"filter":"datum.p=='a4'"}],
      "mark":{"type":"text","font":"Liberation Serif","fontSize":40,"baseline":"alphabetic","align":"center"},
      "encoding":{"text":{"field":"label"},"x":{"datum":7.07,"type":"quantitative"},"y":{"datum":31.7,"type":"quantitative"}}}
    ]}
   ]}
  ]},
 {"title":{"text":"(b)","anchor":"start","fontSize":36,"dx":-12,"dy":33,"offset":0},
  "resolve":{"scale":{"color":"independent","stroke":"independent"},"legend":{"color":"independent"}},
  "vconcat":[
  {"title":{"text":"Conditional Contact Probability Distribution, Pc(D₁, D₂)/P(D = D₁)","anchor":"middle","fontSize":29,"offset":45},
   "resolve":{"scale":{"color":"independent","stroke":"independent"},"legend":{"color":"independent"}},
   "bounds":"flush","spacing":36,
   "hconcat":[
    {"width":291,"height":291,"layer":[
     {"data":{"name":"cells"},"transform":[{"filter":"datum.p=='b1'"},{"lookup":"i","from":{"data":{"name":"bins"},"key":"k","fields":["lo","hi"]},"as":["x1","x2"]},{"lookup":"j","from":{"data":{"name":"bins"},"key":"k","fields":["lo","hi"]},"as":["y1","y2"]}],
      "mark":{"type":"rect","strokeWidth":0},
      "encoding":{
       "x":{"field":"x1","type":"quantitative","scale":{"type":"log","domain":[1,50],"nice":false},"axis":{"title":"D₁","values":[1,2,3,4,5,6,7,8,9,10,20,30,40,50],"labelExpr":"(datum.value==1||datum.value==10||datum.value==50)?format(datum.value,'d'):''","tickSize":{"condition":{"test":"datum.value==1||datum.value==10||datum.value==50","value":6},"value":3.5}}},
       "x2":{"field":"x2"},
       "y":{"field":"y1","type":"quantitative","scale":{"type":"log","domain":[1,50],"nice":false},"axis":{"title":"D₂","values":[1,2,3,4,5,6,7,8,9,10,20,30,40,50],"labelExpr":"(datum.value==1||datum.value==10||datum.value==50)?format(datum.value,'d'):''","tickSize":{"condition":{"test":"datum.value==1||datum.value==10||datum.value==50","value":6},"value":3.5}}},
       "y2":{"field":"y2"},
       "color":{"field":"v","type":"quantitative","scale":{"scheme":"viridis","domain":[-2.03,2.79],"nice":false,"zero":false},"legend":{"type":"gradient","title":null,"values":[-1,1],"gradientLength":291,"labelOffset":-39,"labelExpr":"'10' + replace(replace(replace(replace(replace(replace(replace(replace(''+datum.value,'-','⁻'),'0','⁰'),'1','¹'),'2','²'),'3','³'),'4','⁴'),'5','⁵'),'6','⁶')"}}}},
     {"data":{"name":"cells"},"transform":[{"filter":"datum.p=='b1'"},{"lookup":"i","from":{"data":{"name":"bins"},"key":"k","fields":["lo","hi"]},"as":["x1","x2"]},{"lookup":"j","from":{"data":{"name":"bins"},"key":"k","fields":["lo","hi"]},"as":["y1","y2"]}],
      "mark":{"type":"rect","filled":false,"strokeWidth":0.7},
      "encoding":{"x":{"field":"x1","type":"quantitative","scale":{"type":"log","domain":[1,50],"nice":false}},"x2":{"field":"x2"},"y":{"field":"y1","type":"quantitative","scale":{"type":"log","domain":[1,50],"nice":false}},"y2":{"field":"y2"},
       "stroke":{"field":"v","type":"quantitative","scale":{"scheme":"viridis","domain":[-2.031,2.79],"nice":false,"zero":false},"legend":null}}},
     {"data":{"name":"labels"},"transform":[{"filter":"datum.p=='b1'"}],
      "mark":{"type":"text","font":"Liberation Serif","fontSize":40,"baseline":"alphabetic","align":"center"},
      "encoding":{"text":{"field":"label"},"x":{"datum":7.07,"type":"quantitative"},"y":{"datum":31.7,"type":"quantitative"}}}
    ]},
    {"width":291,"height":291,"layer":[
     {"data":{"name":"cells"},"transform":[{"filter":"datum.p=='b2'"},{"lookup":"i","from":{"data":{"name":"bins"},"key":"k","fields":["lo","hi"]},"as":["x1","x2"]},{"lookup":"j","from":{"data":{"name":"bins"},"key":"k","fields":["lo","hi"]},"as":["y1","y2"]}],
      "mark":{"type":"rect","strokeWidth":0},
      "encoding":{
       "x":{"field":"x1","type":"quantitative","scale":{"type":"log","domain":[1,50],"nice":false},"axis":{"title":"D₁","values":[1,2,3,4,5,6,7,8,9,10,20,30,40,50],"labelExpr":"(datum.value==1||datum.value==10||datum.value==50)?format(datum.value,'d'):''","tickSize":{"condition":{"test":"datum.value==1||datum.value==10||datum.value==50","value":6},"value":3.5}}},
       "x2":{"field":"x2"},
       "y":{"field":"y1","type":"quantitative","scale":{"type":"log","domain":[1,50],"nice":false},"axis":null},
       "y2":{"field":"y2"},
       "color":{"field":"v","type":"quantitative","scale":{"scheme":"viridis","domain":[-1.31,2.42],"nice":false,"zero":false},"legend":{"type":"gradient","title":null,"values":[-1,0,1,2],"gradientLength":291,"labelOffset":-39,"labelExpr":"'10' + replace(replace(replace(replace(replace(replace(replace(replace(''+datum.value,'-','⁻'),'0','⁰'),'1','¹'),'2','²'),'3','³'),'4','⁴'),'5','⁵'),'6','⁶')"}}}},
     {"data":{"name":"cells"},"transform":[{"filter":"datum.p=='b2'"},{"lookup":"i","from":{"data":{"name":"bins"},"key":"k","fields":["lo","hi"]},"as":["x1","x2"]},{"lookup":"j","from":{"data":{"name":"bins"},"key":"k","fields":["lo","hi"]},"as":["y1","y2"]}],
      "mark":{"type":"rect","filled":false,"strokeWidth":0.7},
      "encoding":{"x":{"field":"x1","type":"quantitative","scale":{"type":"log","domain":[1,50],"nice":false}},"x2":{"field":"x2"},"y":{"field":"y1","type":"quantitative","scale":{"type":"log","domain":[1,50],"nice":false}},"y2":{"field":"y2"},
       "stroke":{"field":"v","type":"quantitative","scale":{"scheme":"viridis","domain":[-1.311,2.42],"nice":false,"zero":false},"legend":null}}},
     {"data":{"name":"labels"},"transform":[{"filter":"datum.p=='b2'"}],
      "mark":{"type":"text","font":"Liberation Serif","fontSize":40,"baseline":"alphabetic","align":"center"},
      "encoding":{"text":{"field":"label"},"x":{"datum":7.07,"type":"quantitative"},"y":{"datum":31.7,"type":"quantitative"}}}
    ]},
    {"width":291,"height":291,"layer":[
     {"data":{"name":"cells"},"transform":[{"filter":"datum.p=='b3'"},{"lookup":"i","from":{"data":{"name":"bins"},"key":"k","fields":["lo","hi"]},"as":["x1","x2"]},{"lookup":"j","from":{"data":{"name":"bins"},"key":"k","fields":["lo","hi"]},"as":["y1","y2"]}],
      "mark":{"type":"rect","strokeWidth":0},
      "encoding":{
       "x":{"field":"x1","type":"quantitative","scale":{"type":"log","domain":[1,50],"nice":false},"axis":{"title":"D₁","values":[1,2,3,4,5,6,7,8,9,10,20,30,40,50],"labelExpr":"(datum.value==1||datum.value==10||datum.value==50)?format(datum.value,'d'):''","tickSize":{"condition":{"test":"datum.value==1||datum.value==10||datum.value==50","value":6},"value":3.5}}},
       "x2":{"field":"x2"},
       "y":{"field":"y1","type":"quantitative","scale":{"type":"log","domain":[1,50],"nice":false},"axis":null},
       "y2":{"field":"y2"},
       "color":{"field":"v","type":"quantitative","scale":{"scheme":"viridis","domain":[-1.89,2.03],"nice":false,"zero":false},"legend":{"type":"gradient","title":null,"values":[-1,0,1,2],"gradientLength":291,"labelOffset":-39,"labelExpr":"'10' + replace(replace(replace(replace(replace(replace(replace(replace(''+datum.value,'-','⁻'),'0','⁰'),'1','¹'),'2','²'),'3','³'),'4','⁴'),'5','⁵'),'6','⁶')"}}}},
     {"data":{"name":"cells"},"transform":[{"filter":"datum.p=='b3'"},{"lookup":"i","from":{"data":{"name":"bins"},"key":"k","fields":["lo","hi"]},"as":["x1","x2"]},{"lookup":"j","from":{"data":{"name":"bins"},"key":"k","fields":["lo","hi"]},"as":["y1","y2"]}],
      "mark":{"type":"rect","filled":false,"strokeWidth":0.7},
      "encoding":{"x":{"field":"x1","type":"quantitative","scale":{"type":"log","domain":[1,50],"nice":false}},"x2":{"field":"x2"},"y":{"field":"y1","type":"quantitative","scale":{"type":"log","domain":[1,50],"nice":false}},"y2":{"field":"y2"},
       "stroke":{"field":"v","type":"quantitative","scale":{"scheme":"viridis","domain":[-1.891,2.03],"nice":false,"zero":false},"legend":null}}},
     {"data":{"name":"labels"},"transform":[{"filter":"datum.p=='b3'"}],
      "mark":{"type":"text","font":"Liberation Serif","fontSize":40,"baseline":"alphabetic","align":"center"},
      "encoding":{"text":{"field":"label"},"x":{"datum":7.07,"type":"quantitative"},"y":{"datum":31.7,"type":"quantitative"}}}
    ]},
    {"width":291,"height":291,"layer":[
     {"data":{"name":"cells"},"transform":[{"filter":"datum.p=='b4'"},{"lookup":"i","from":{"data":{"name":"bins"},"key":"k","fields":["lo","hi"]},"as":["x1","x2"]},{"lookup":"j","from":{"data":{"name":"bins"},"key":"k","fields":["lo","hi"]},"as":["y1","y2"]}],
      "mark":{"type":"rect","strokeWidth":0},
      "encoding":{
       "x":{"field":"x1","type":"quantitative","scale":{"type":"log","domain":[1,50],"nice":false},"axis":{"title":"D₁","values":[1,2,3,4,5,6,7,8,9,10,20,30,40,50],"labelExpr":"(datum.value==1||datum.value==10||datum.value==50)?format(datum.value,'d'):''","tickSize":{"condition":{"test":"datum.value==1||datum.value==10||datum.value==50","value":6},"value":3.5}}},
       "x2":{"field":"x2"},
       "y":{"field":"y1","type":"quantitative","scale":{"type":"log","domain":[1,50],"nice":false},"axis":null},
       "y2":{"field":"y2"},
       "color":{"field":"v","type":"quantitative","scale":{"scheme":"viridis","domain":[-3.39,1.71],"nice":false,"zero":false},"legend":{"type":"gradient","title":null,"values":[-2,0],"gradientLength":291,"labelOffset":-39,"labelExpr":"'10' + replace(replace(replace(replace(replace(replace(replace(replace(''+datum.value,'-','⁻'),'0','⁰'),'1','¹'),'2','²'),'3','³'),'4','⁴'),'5','⁵'),'6','⁶')"}}}},
     {"data":{"name":"cells"},"transform":[{"filter":"datum.p=='b4'"},{"lookup":"i","from":{"data":{"name":"bins"},"key":"k","fields":["lo","hi"]},"as":["x1","x2"]},{"lookup":"j","from":{"data":{"name":"bins"},"key":"k","fields":["lo","hi"]},"as":["y1","y2"]}],
      "mark":{"type":"rect","filled":false,"strokeWidth":0.7},
      "encoding":{"x":{"field":"x1","type":"quantitative","scale":{"type":"log","domain":[1,50],"nice":false}},"x2":{"field":"x2"},"y":{"field":"y1","type":"quantitative","scale":{"type":"log","domain":[1,50],"nice":false}},"y2":{"field":"y2"},
       "stroke":{"field":"v","type":"quantitative","scale":{"scheme":"viridis","domain":[-3.391,1.71],"nice":false,"zero":false},"legend":null}}},
     {"data":{"name":"labels"},"transform":[{"filter":"datum.p=='b4'"}],
      "mark":{"type":"text","font":"Liberation Serif","fontSize":40,"baseline":"alphabetic","align":"center"},
      "encoding":{"text":{"field":"label"},"x":{"datum":7.07,"type":"quantitative"},"y":{"datum":31.7,"type":"quantitative"}}}
    ]}
   ]}
  ]}
]
}
